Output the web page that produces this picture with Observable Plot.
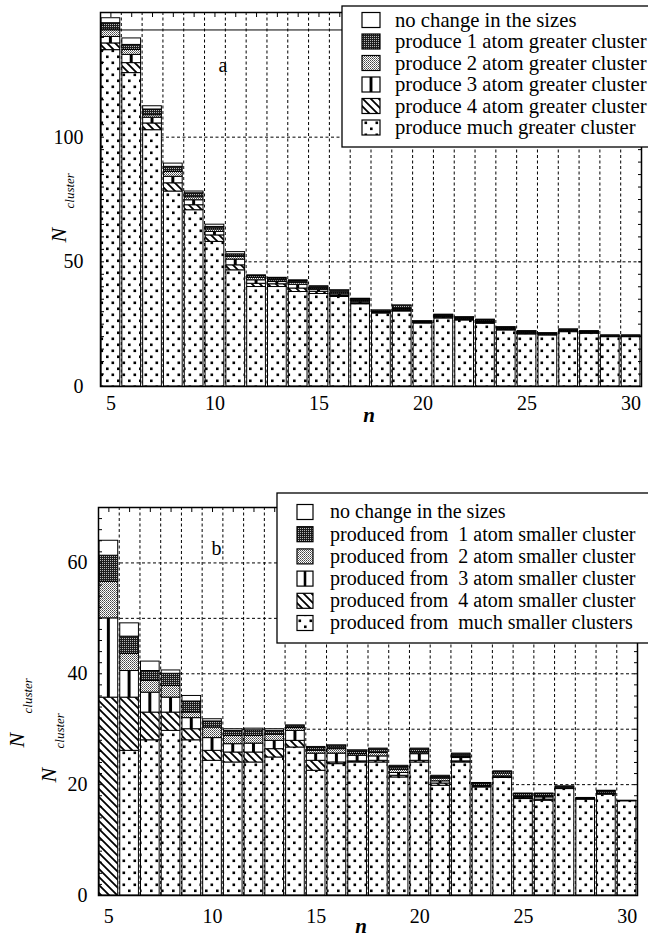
<!DOCTYPE html>
<html><head><meta charset="utf-8">
<script src="https://cdn.jsdelivr.net/npm/d3@7"></script>
<script src="https://cdn.jsdelivr.net/npm/@observablehq/plot@0.6"></script>
<style>
html,body{margin:0;padding:0;background:#fff;overflow:hidden;}
#root svg{display:block;}
</style></head><body>
<svg width="0" height="0" style="position:absolute;left:0;top:0">
<defs>
  <pattern id="pDark" patternUnits="userSpaceOnUse" width="2" height="2">
    <rect width="2" height="2" fill="#1e1e1e"/>
    <rect width="1" height="1" fill="#b8b8b8"/>
  </pattern>
  <pattern id="pLight" patternUnits="userSpaceOnUse" width="2" height="2">
    <rect width="2" height="2" fill="#ffffff"/>
    <rect width="1" height="1" fill="#444"/>
    <rect x="1" y="1" width="1" height="1" fill="#777"/>
  </pattern>
  <pattern id="pStripes" patternUnits="objectBoundingBox" patternContentUnits="objectBoundingBox" width="1" height="1">
    <rect width="1" height="1" fill="#ffffff"/>
    <rect x="0.42" width="0.16" height="1" fill="#000"/>
  </pattern>
  <pattern id="pHatch" patternUnits="userSpaceOnUse" width="8" height="8">
    <rect width="8" height="8" fill="#ffffff"/>
    <path d="M0,0L8,8M-2,6L2,10M6,-2L10,2" stroke="#000" stroke-width="1.8"/>
  </pattern>
  <pattern id="pDots" patternUnits="userSpaceOnUse" width="11" height="12">
    <rect width="11" height="12" fill="#ffffff"/>
    <rect x="1.5" y="1.5" width="2.6" height="2.6" fill="#000"/>
    <rect x="7" y="7.5" width="2.6" height="2.6" fill="#000"/>
  </pattern>
</defs></svg>
<div id="root"></div>
<script>
// ---------- data ----------
const nValues = [5,6,7,8,9,10,11,12,13,14,15,16,17,18,19,20,21,22,23,24,25,26,27,28,29,30];
const xTickLabels = [5,10,15,20,25,30];
const seriesKeys = ["much","four","three","two","one","none"]; // bottom -> top of stack

// panel a
const aMuch  = [134.9,125.7,102.8,78.2,70.7,58,46.6,39.9,39.9,37.9,37.1,35.9,33,29.3,30.1,25.3,27.3,26.5,25.2,22.5,20.9,20.5,21.8,21.2,19.8,19.8];
const aFour  = [2.7,4,2.7,3.3,2,2.6,2,1.3,1.1,1.4,0.9,0.4,0.4,0.2,0.4,0.1,0.3,0.2,0.2,0.2,0.2,0.1,0.2,0.1,0.1,0.1];
const aThree = [2.6,3.3,2.3,2.6,2,1.4,2.3,1.4,0.9,1.5,0.8,0.6,0.6,0.2,0.3,0.1,0.3,0.2,0.4,0.2,0.2,0.2,0.2,0.2,0.1,0.1];
const aTwo   = [3,2,1,2,1.2,1,1.1,1,0.7,0.8,0.5,0.5,0.4,0.2,0.4,0.2,0.3,0.3,0.4,0.3,0.3,0.2,0.2,0.2,0.1,0.1];
const aOne   = [2.5,2,2.3,2,1.6,1,1,0.7,0.7,0.7,0.7,1.0,0.6,0.5,1.2,0.4,0.5,0.5,0.5,0.5,0.5,0.3,0.4,0.4,0.3,0.3];
const aNone  = [2,2.6,1.3,1.3,0.7,0.9,0.9,0.3,0.3,0.3,0.2,0.2,0.2,0.1,0.1,0.1,0.1,0.1,0.1,0.1,0.1,0.1,0.1,0.1,0.1,0.1];
const aYTicks = [0,50,100];
const aYGrid = [50,100];
const aTopLine = [143];
const aLegend = ["no change in the sizes","produce 1 atom greater cluster","produce 2 atom greater cluster","produce 3 atom greater cluster","produce 4 atom greater cluster","produce much greater cluster"];

// panel b
const bMuch  = [0,26.1,28,29.7,28,24.3,24,24,24.9,26.7,22.5,23.7,24,24,21.3,24,19.8,24,19.5,21.2,17.4,17.1,19.2,17.3,18.2,17.0];
const bFour  = [35.7,9.6,5.0,3.3,2,1.8,1.8,1.8,1.5,1.2,1.8,0.3,0.2,0.3,0.3,0.3,0.4,0.2,0.1,0.1,0.1,0.2,0,0,0,0];
const bThree = [14.3,4.8,3.6,2.7,2,2.3,1.5,1.6,1.5,1.8,1.3,1.6,1.0,0.8,0.5,1.2,0.4,0.6,0.1,0.2,0.2,0.4,0.05,0.05,0.1,0];
const bTwo   = [6.6,3.1,2.1,2.1,1,1.9,1.5,1.4,1.1,0.5,0.5,0.8,0.3,0.6,0.6,0.3,0.5,0.2,0.1,0.5,0.1,0.2,0.05,0.05,0.1,0];
const bOne   = [4.7,3.1,1.8,2.2,2,1.1,0.9,1.0,0.7,0.3,0.5,0.5,0.5,0.6,0.5,0.5,0.3,0.4,0.4,0.3,0.5,0.4,0.3,0.1,0.4,0.05];
const bNone  = [2.7,2.4,1.7,0.6,1,0.4,0.3,0.3,0.3,0.2,0.2,0.2,0.2,0.2,0.2,0.2,0.2,0.2,0.1,0.1,0.1,0.1,0.1,0.1,0.1,0.05];
const bYTicks = [0,20,40,60];
const bYGrid = [10,20,30,40,50,60];
const bLegend = ["no change in the sizes","produced from  1 atom smaller cluster","produced from  2 atom smaller cluster","produced from  3 atom smaller cluster","produced from  4 atom smaller cluster","produced from  much smaller clusters"];

// ---------- helpers ----------
const serif = "'Liberation Serif','Times New Roman',Times,serif";
const fills = {much:"url(#pDots)", four:"url(#pHatch)", three:"url(#pStripes)", two:"url(#pLight)", one:"url(#pDark)", none:"#ffffff"};
const legendKeys = ["none","one","two","three","four","much"]; // top -> bottom in legend

function longTable(series) {
  const rows = [];
  nValues.forEach((n, i) => {
    seriesKeys.forEach(k => rows.push({n, cat: k, v: series[k][i]}));
  });
  return rows;
}

function makeChart(cfg) {
  const rows = longTable(cfg.series);
  const T = {fontFamily: serif, fill: "black"};
  const svg = Plot.plot({
    width: 648, height: cfg.height,
    marginTop: cfg.mt, marginBottom: cfg.mb, marginLeft: cfg.ml, marginRight: cfg.mr,
    style: {fontFamily: serif, background: "white", color: "black"},
    x: {domain: [4.5, 30.5], label: null},
    y: {domain: cfg.yDomain, label: null},
    color: {domain: seriesKeys, range: seriesKeys.map(k => fills[k])},
    marks: [
      Plot.ruleX(nValues.slice(0, -1), {x: d => d + 0.5, stroke: "black", strokeWidth: 1, strokeDasharray: "3,2.5"}),
      Plot.ruleY(cfg.yGrid, {stroke: "black", strokeWidth: 1, strokeDasharray: "3,2.5"}),
      Plot.rectY(rows, {x1: d => d.n - 0.45, x2: d => d.n + 0.45, y: "v", fill: "cat", stroke: "black", strokeWidth: 1}),
      Plot.frame({stroke: "black", strokeWidth: 1.5}),
      Plot.axisX(xTickLabels, {anchor: "bottom", tickSize: 0, tickPadding: cfg.xPad, fontSize: 20, fontFamily: serif, label: null}),
      Plot.axisX(nValues, {anchor: "top", tickSize: -4, tickFormat: () => "", label: null}),
      Plot.axisY(cfg.yTicks, {anchor: "left", tickSize: 0, tickPadding: cfg.yPad, fontSize: 20, fontFamily: serif, label: null}),
      Plot.axisY(cfg.yMinor, {anchor: "left", tickSize: -4, tickFormat: () => "", label: null}),
      Plot.axisY(cfg.yMinor, {anchor: "right", tickSize: -4, tickFormat: () => "", label: null}),
      Plot.ruleY(cfg.topLine, {stroke: "black", strokeWidth: 1, insetRight: -20, ariaLabel: "topline"}),
      Plot.text(["n"], {...T, text: d => d, frameAnchor: "bottom", dx: cfg.nLabel[0], dy: cfg.nLabel[1], fontSize: 21, fontWeight: "bold", fontStyle: "italic"}),
      ...cfg.yLabels.flatMap(([dx, dy]) => [
        Plot.text(["N"], {...T, text: d => d, frameAnchor: "left", dx, dy, rotate: -90, fontSize: 22, fontStyle: "italic"}),
        Plot.text(["cluster"], {...T, text: d => d, frameAnchor: "left", dx: dx + 11, dy: dy - 34, rotate: -90, fontSize: 13, fontStyle: "italic"})
      ]),
      Plot.text([cfg.panel], {...T, text: d => d, frameAnchor: "top-left", dx: cfg.panelPos[0], dy: cfg.panelPos[1], fontSize: 20})
    ]
  });
  // legend
  const L = cfg.legend;
  const g = d3.select(svg).append("g").attr("font-family", serif).attr("font-size", L.fs).attr("text-anchor", "start");
  g.append("rect").attr("x", L.x).attr("y", L.y).attr("width", L.w).attr("height", L.h)
    .attr("fill", "white").attr("stroke", "black").attr("stroke-width", 1.3);
  legendKeys.forEach((k, i) => {
    const cy = L.row0 + i * L.step;
    g.append("rect").attr("x", L.swX).attr("y", cy - L.swH / 2).attr("width", L.swW).attr("height", L.swH)
      .attr("fill", fills[k]).attr("stroke", "black").attr("stroke-width", 1.2);
    g.append("text").attr("x", L.textX).attr("y", cy).attr("dy", "0.32em").attr("fill", "black")
      .attr("text-anchor", "start").style("white-space", "pre").text(L.labels[i]);
  });
  d3.select(svg).selectAll('[aria-label="topline"]').raise();
  return svg;
}

const root = document.getElementById("root");
root.appendChild(makeChart({
  height: 450, mt: 12, mb: 64, ml: 100, mr: 7,
  yDomain: [0, 150], yTicks: aYTicks, yGrid: aYGrid, yMinor: d3.range(0, 151, 5), topLine: aTopLine,
  series: {much: aMuch, four: aFour, three: aThree, two: aTwo, one: aOne, none: aNone},
  xPad: 9, yPad: 17,
  nLabel: [-2, 35],
  yLabels: [[-42, 43]],
  panel: "a", panelPos: [118, 45],
  legend: {x: 342, y: 6, w: 330, h: 141, row0: 20, step: 21.5, swX: 362, swW: 18, swH: 15, textX: 395, fs: 20.7, labels: aLegend}
}));
root.appendChild(makeChart({
  height: 486, mt: 57, mb: 41, ml: 98, mr: 11,
  yDomain: [0, 70], yTicks: bYTicks, yGrid: bYGrid, yMinor: d3.range(0, 71, 2), topLine: [],
  series: {much: bMuch, four: bFour, three: bThree, two: bTwo, one: bOne, none: bNone},
  xPad: 13, yPad: 11,
  nLabel: [-7, 37],
  yLabels: [[-82, 46], [-50, 81]],
  panel: "b", panelPos: [113, 33],
  legend: {x: 277, y: 43, w: 400, h: 150, row0: 62, step: 22.2, swX: 297, swW: 16, swH: 15, textX: 330, fs: 20, labels: bLegend}
}));
</script>
</body></html>
